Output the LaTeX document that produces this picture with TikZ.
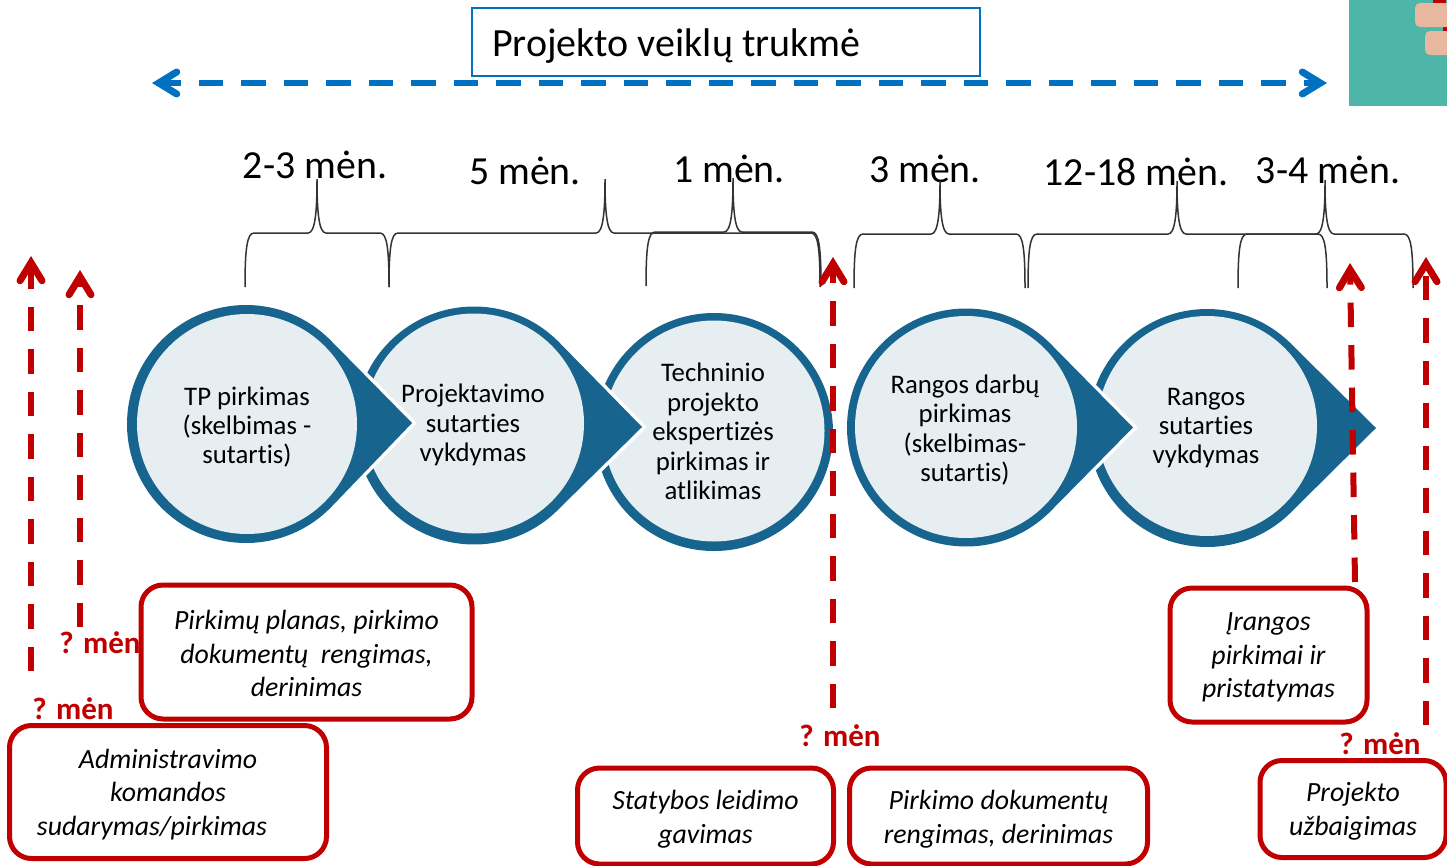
\documentclass[tikz,border=0pt]{standalone}
\usepackage{fontspec}
\setmainfont[Ligatures=NoCommon]{Carlito}
\usetikzlibrary{arrows.meta,calc}
\definecolor{ringblue}{HTML}{17648F}
\definecolor{innerfill}{HTML}{E6EEF2}
\definecolor{darkred}{HTML}{C00000}
\definecolor{lineblue}{HTML}{0070C0}
\definecolor{teal}{HTML}{4DB6A8}
\definecolor{peach}{HTML}{E8B89E}
\definecolor{bracegray}{HTML}{333333}
\tikzset{
  stagetext/.style={align=center,inner sep=0pt,font=\fontsize{26.8}{29.4}\selectfont},
  durlabel/.style={inner sep=0pt,font=\fontsize{39.8}{42}\selectfont},
  monthlabel/.style={inner sep=0pt,text=darkred,font=\fontsize{31}{33}\selectfont\bfseries},
  taskbox/.style={draw=darkred,line width=5pt,rounded corners=22pt,fill=white,inner sep=0pt},
  tasktext/.style={align=center,inner sep=0pt,font=\fontsize{27.8}{33.6}\selectfont\itshape},
  barb/.tip={Straight Barb[length=18pt,width=22pt,line width=7pt,line cap=round,line join=miter]},
  redarrow/.style={draw=darkred,line width=6pt,dash pattern=on 24.5pt off 18pt,-barb},
  bluearrow/.style={draw=lineblue,line width=6pt,dash pattern=on 24.5pt off 18pt,dash phase=6pt,barb-barb},
  bracket/.style={draw=bracegray,line width=1.5pt},
}
% teardrop: outer centre x,y; tip x,y
\newcommand{\teardrop}[4]{%
  \coordinate (tipc) at (#1,#2);
  \path[preaction={draw=white,line width=7pt,line join=miter},fill=ringblue]
    (tipc) ++(44:119pt) arc[start angle=44,end angle=316,radius=119pt] -- (#3,#4) -- cycle;
}
% bracket: x1, x2, tip x, tip y, bar y, bottom y
\newcommand{\bracketpath}[6]{%
  \draw[bracket] (#1,#6) .. controls (#1,#5+16) and (#1+2,#5) .. (#1+9,#5)
    -- (#3-9,#5) .. controls (#3-2,#5) and (#3,#5-20) .. (#3,#4)
    .. controls (#3,#5-20) and (#3+2,#5) .. (#3+9,#5)
    -- (#2-9,#5) .. controls (#2-2,#5) and (#2,#5+16) .. (#2,#6);
}
\begin{document}
\begin{tikzpicture}[x=1pt,y=1pt,yscale=-1]
\useasboundingbox (0,0) rectangle (1447,865);
% teal corner
\fill[teal] (1349,0) rectangle (1447,106);
\fill[darkred] (1433,0) rectangle (1446,4);
\fill[darkred] (1443,26) rectangle (1447,32);
\fill[peach,rounded corners=5pt] (1415,3) rectangle (1455,27);
\fill[peach,rounded corners=5pt] (1425,31) rectangle (1455,55);
% title
\node[draw=lineblue,line width=1.5pt,minimum width=508pt,minimum height=68pt,inner sep=0pt] (title) at (726,42) {};
\node[anchor=base west,inner sep=0pt,font=\fontsize{40}{42}\selectfont] (titletext) at (492,56) {Projekto veiklų trukmė};
\coordinate (bl) at (152,83);
\coordinate (br) at (1327,83);
\draw[bluearrow] (bl) -- (br);
% durations
\node[durlabel] (d1) at (315,165) {2-3 mėn.};
\node[durlabel] (d2) at (525,171) {5 mėn.};
\node[durlabel] (d3) at (729,169) {1 mėn.};
\node[durlabel] (d4) at (925,169) {3 mėn.};
\node[durlabel] (d5) at (1136,172) {12-18 mėn.};
\node[durlabel] (d6) at (1328,170) {3-4 mėn.};
% brackets
\bracketpath{245}{389}{317}{179}{233}{287}
\bracketpath{389}{820}{605}{179}{233}{287}
\bracketpath{646}{821}{733}{178}{232}{286}
\bracketpath{854}{1025}{940}{181}{234}{288}
\bracketpath{1028}{1327}{1177}{181}{234}{288}
\bracketpath{1238}{1413}{1325}{180}{234}{288}
% stages, right to left so each tip lies over the next circle
\teardrop{1207}{428}{1376}{428}
\fill[innerfill] (1207,426) circle[radius=110pt];
\teardrop{966}{427.5}{1133}{427.5}
\fill[innerfill] (966,427) circle[radius=111pt];
\fill[ringblue] (714,432) circle[radius=119pt];
\fill[innerfill] (714,431) circle[radius=110.5pt];
\teardrop{474}{425.5}{642}{427}
\fill[innerfill] (474,423.5) circle[radius=110pt];
\teardrop{246}{424}{412}{423}
\fill[innerfill] (247,424) circle[radius=110pt];
\node[stagetext] (s1) at (247,427) {TP pirkimas\\(skelbimas -\\sutartis)};
\node[stagetext] (s2) at (473,425) {Projektavimo\\sutarties\\vykdymas};
\node[stagetext] (s3) at (713,431.5) {Techninio\\projekto\\ekspertizės\\pirkimas ir\\atlikimas};
\node[stagetext] (s4) at (965,430) {Rangos darbų\\pirkimas\\(skelbimas-\\sutartis)};
\node[stagetext] (s5) at (1206,428) {Rangos\\sutarties\\vykdymas};
% task boxes
\node[taskbox,minimum width=331pt,minimum height=134pt] (b1) at (306.5,652) {};
\node[tasktext] (t1) at (306.5,653.5) {Pirkimų planas, pirkimo\\dokumentų\ \ rengimas,\\derinimas};
\node[taskbox,minimum width=317pt,minimum height=133pt] (b2) at (168,792) {};
\node[tasktext] (t2) at (168,794.5) {Administravimo\\komandos\\sudarymas/pirkimas\hspace*{32pt}};
\node[taskbox,minimum width=256pt,minimum height=96pt] (b3) at (705.5,816) {};
\node[tasktext] (t3) at (705.5,819) {Statybos leidimo\\gavimas};
\node[taskbox,minimum width=298pt,minimum height=96pt] (b4) at (998.5,816) {};
\node[tasktext] (t4) at (998.5,819) {Pirkimo dokumentų\\rengimas, derinimas};
\node[taskbox,minimum width=197pt,minimum height=134pt] (b5) at (1268.5,655) {};
\node[tasktext] (t5) at (1268.5,657.5) {Įrangos\\pirkimai ir\\pristatymas};
\node[taskbox,minimum width=186pt,minimum height=97pt] (b6) at (1353,809) {};
\node[tasktext] (t6) at (1353,811) {Projekto\\užbaigimas};
% month labels
\node[monthlabel] (m1) at (100,643) {? mėn};
\node[monthlabel] (m2) at (73,709) {? mėn};
\node[monthlabel] (m3) at (840,736) {? mėn};
\node[monthlabel] (m4) at (1380,744) {? mėn};
% red arrows
\coordinate (a1s) at (31,671); \coordinate (a1e) at (31,256);
\coordinate (a2s) at (80,627); \coordinate (a2e) at (80,270);
\coordinate (a3s) at (833,708); \coordinate (a3e) at (833,257);
\coordinate (a4s) at (1355,582); \coordinate (a4e) at (1350,263);
\coordinate (a5s) at (1426,725); \coordinate (a5e) at (1426,257);
\draw[redarrow] (a1s) -- (a1e);
\draw[redarrow] (a2s) -- (a2e);
\draw[redarrow] (a3s) -- (a3e);
\draw[redarrow] (a4s) -- (a4e);
\draw[redarrow] (a5s) -- (a5e);
\end{tikzpicture}
\end{document}
